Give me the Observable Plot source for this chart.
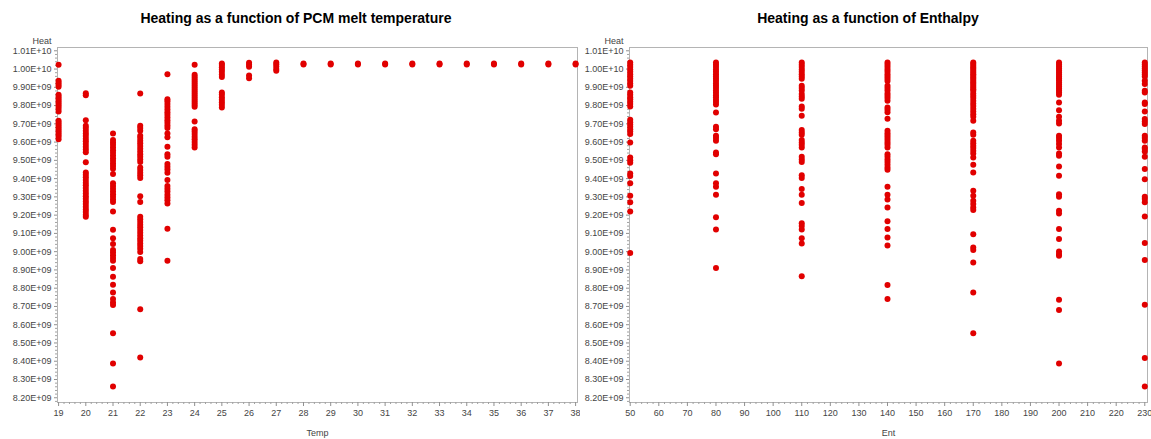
<!DOCTYPE html>
<html>
<head>
<meta charset="utf-8">
<script src="https://cdn.jsdelivr.net/npm/d3@7"></script>
<script src="https://cdn.jsdelivr.net/npm/@observablehq/plot@0.6"></script>
<style>
  body { margin: 0; background: #fff; }
  #fig { display: flex; width: 1151px; height: 439px; font-family: "Liberation Sans", Arial, sans-serif; }
  .panel { position: relative; }
  .title {
    box-sizing: border-box; height: 30px; padding-top: 10px;
    font: bold 14px "Liberation Sans", Arial, sans-serif; line-height: normal;
    text-align: center; color: #000; white-space: nowrap;
  }
</style>
</head>
<body>
<div id="fig"></div>
<script>
// Heat values in units of 1e9, one array per melt temperature
const heatT19 = [10.023, 9.936, 9.925, 9.914, 9.903, 9.859, 9.848, 9.837, 9.826, 9.815, 9.804, 9.793, 9.781, 9.768, 9.717, 9.706, 9.695, 9.684, 9.673, 9.662, 9.651, 9.640, 9.629, 9.615];
const heatT20 = [9.868, 9.857, 9.720, 9.689, 9.677, 9.662, 9.647, 9.633, 9.618, 9.604, 9.589, 9.574, 9.560, 9.545, 9.489, 9.434, 9.421, 9.407, 9.392, 9.377, 9.363, 9.348, 9.334, 9.319, 9.304, 9.290, 9.275, 9.261, 9.246, 9.231, 9.217, 9.202, 9.191];
const heatT21 = [9.647, 9.611, 9.598, 9.585, 9.571, 9.556, 9.542, 9.527, 9.512, 9.498, 9.483, 9.469, 9.454, 9.425, 9.374, 9.359, 9.345, 9.330, 9.315, 9.301, 9.286, 9.272, 9.220, 9.120, 9.074, 9.042, 9.009, 8.995, 8.980, 8.965, 8.950, 8.910, 8.863, 8.819, 8.777, 8.741, 8.722, 8.708, 8.553, 8.388, 8.261];
const heatT22 = [9.866, 9.689, 9.677, 9.662, 9.635, 9.622, 9.607, 9.593, 9.578, 9.564, 9.549, 9.534, 9.520, 9.505, 9.491, 9.461, 9.447, 9.432, 9.418, 9.403, 9.304, 9.272, 9.191, 9.177, 9.162, 9.147, 9.133, 9.118, 9.104, 9.089, 9.074, 9.060, 9.045, 9.031, 9.016, 8.998, 8.960, 8.947, 8.684, 8.421];
const heatT23 = [9.972, 9.835, 9.823, 9.808, 9.793, 9.779, 9.764, 9.750, 9.735, 9.720, 9.706, 9.691, 9.677, 9.647, 9.626, 9.574, 9.534, 9.520, 9.480, 9.465, 9.450, 9.432, 9.392, 9.359, 9.345, 9.330, 9.312, 9.297, 9.282, 9.264, 9.126, 8.950];
const heatT24 = [10.023, 9.969, 9.958, 9.947, 9.936, 9.925, 9.914, 9.903, 9.892, 9.881, 9.870, 9.859, 9.848, 9.837, 9.826, 9.815, 9.804, 9.793, 9.713, 9.671, 9.658, 9.644, 9.629, 9.615, 9.600, 9.585, 9.571];
const heatT25 = [10.030, 10.022, 10.010, 9.998, 9.985, 9.970, 9.956, 9.872, 9.860, 9.846, 9.832, 9.818, 9.804, 9.790];
const heatT26 = [10.034, 10.024, 10.012, 9.965, 9.950];
const heatT27 = [10.036, 10.026, 10.014, 10.000, 9.990];
// 28 through 38 all settle at the same plateau
const plateauTemps = [28, 29, 30, 31, 32, 33, 34, 35, 36, 37, 38];
const heatPlateau = [10.030, 10.025];

// Heat values in units of 1e9, one array per enthalpy level
const heatE50 = [10.036, 10.023, 10.011, 9.998, 9.985, 9.972, 9.959, 9.947, 9.934, 9.921, 9.908, 9.872, 9.859, 9.846, 9.834, 9.821, 9.808, 9.795, 9.722, 9.709, 9.697, 9.684, 9.671, 9.658, 9.644, 9.598, 9.516, 9.501, 9.487, 9.428, 9.414, 9.374, 9.306, 9.270, 9.220, 8.992];
const heatE80 = [10.036, 10.023, 10.011, 9.998, 9.985, 9.972, 9.959, 9.947, 9.934, 9.921, 9.908, 9.896, 9.883, 9.870, 9.857, 9.845, 9.832, 9.819, 9.806, 9.762, 9.684, 9.671, 9.635, 9.622, 9.607, 9.543, 9.534, 9.428, 9.374, 9.355, 9.312, 9.188, 9.122, 8.910];
const heatE110 = [10.036, 10.023, 10.011, 9.998, 9.985, 9.972, 9.959, 9.947, 9.908, 9.896, 9.883, 9.863, 9.850, 9.837, 9.795, 9.782, 9.744, 9.666, 9.653, 9.640, 9.611, 9.598, 9.585, 9.571, 9.520, 9.505, 9.491, 9.418, 9.403, 9.343, 9.312, 9.266, 9.155, 9.140, 9.122, 9.074, 9.045, 8.865];
const heatE140 = [10.036, 10.023, 10.011, 9.998, 9.985, 9.972, 9.959, 9.947, 9.934, 9.908, 9.896, 9.883, 9.866, 9.854, 9.841, 9.826, 9.790, 9.777, 9.764, 9.728, 9.662, 9.649, 9.636, 9.624, 9.611, 9.598, 9.585, 9.571, 9.534, 9.520, 9.505, 9.491, 9.476, 9.461, 9.449, 9.355, 9.312, 9.286, 9.242, 9.166, 9.124, 9.078, 9.034, 8.817, 8.741];
const heatE170 = [10.036, 10.027, 10.018, 10.009, 10.000, 9.991, 9.981, 9.972, 9.963, 9.954, 9.945, 9.936, 9.927, 9.918, 9.908, 9.899, 9.890, 9.881, 9.866, 9.854, 9.841, 9.826, 9.812, 9.797, 9.782, 9.768, 9.753, 9.739, 9.717, 9.653, 9.640, 9.607, 9.593, 9.580, 9.567, 9.553, 9.538, 9.516, 9.476, 9.434, 9.334, 9.306, 9.279, 9.261, 9.242, 9.228, 9.096, 9.023, 9.009, 8.941, 8.777, 8.553];
const heatE200 = [10.036, 10.025, 10.014, 10.003, 9.992, 9.981, 9.970, 9.959, 9.949, 9.938, 9.927, 9.916, 9.905, 9.894, 9.883, 9.872, 9.859, 9.817, 9.775, 9.739, 9.717, 9.702, 9.635, 9.622, 9.607, 9.589, 9.571, 9.538, 9.525, 9.467, 9.416, 9.315, 9.301, 9.224, 9.209, 9.124, 9.069, 9.001, 8.987, 8.978, 8.737, 8.680, 8.388];
const heatE230 = [10.036, 10.025, 10.014, 10.003, 9.992, 9.981, 9.970, 9.959, 9.936, 9.918, 9.881, 9.872, 9.817, 9.808, 9.768, 9.726, 9.713, 9.699, 9.635, 9.622, 9.607, 9.571, 9.562, 9.549, 9.520, 9.452, 9.397, 9.301, 9.288, 9.270, 9.193, 9.047, 8.954, 8.709, 8.418, 8.261];

// Axis ticks
const tempTicks = d3.range(19, 39);
const entTicks = d3.range(50, 231, 10);
const heatTicks = d3.range(82, 102).map(k => k * 1e8);

const tempColumns = [
  [19, heatT19], [20, heatT20], [21, heatT21], [22, heatT22], [23, heatT23],
  [24, heatT24], [25, heatT25], [26, heatT26], [27, heatT27],
  ...plateauTemps.map(t => [t, heatPlateau])
];
const entColumns = [
  [50, heatE50], [80, heatE80], [110, heatE110], [140, heatE140],
  [170, heatE170], [200, heatE200], [230, heatE230]
];
const toRows = cols => cols.flatMap(([x, vals]) => vals.map(v => ({x, heat: v * 1e9})));

// 9.90E+09 style labels
const sciFormat = v => {
  const e = Math.floor(Math.log10(v) + 1e-9);
  return (v / 10 ** e).toFixed(2) + "E+" + String(e).padStart(2, "0");
};

const heatMinor = d3.range(409, 506).filter(k => k % 5).map(k => k * 2e7);
const fontFamily = '"Liberation Sans", Arial, sans-serif';

function panel({title, rows, xLabel, xDomain, xTicks, xMinor, width, marginLeft, marginRight, titlePad}) {
  const div = document.createElement("div");
  div.className = "panel";
  div.style.width = width + "px";
  const t = document.createElement("div");
  t.className = "title";
  t.style.paddingLeft = titlePad + "px";
  t.textContent = title;
  div.append(t);
  const chart = Plot.plot({
    width, height: 409,
    marginTop: 17, marginBottom: 37, marginLeft, marginRight,
    style: {fontFamily, fontSize: "9px", color: "#444", background: "#fff", overflow: "visible"},
    x: {domain: xDomain},
    y: {domain: [8.174e9, 1.0118e10]},
    marks: [
      Plot.frame({stroke: "#b4b4b4"}),
      Plot.axisY(heatMinor, {tickSize: 2, tickFormat: () => "", stroke: "#a0a0a0", label: null}),
      Plot.axisY(heatTicks, {tickSize: 3, tickPadding: 3, tickFormat: sciFormat, stroke: "#909090", fill: "#444", label: null}),
      Plot.axisX(xMinor, {tickSize: 2, tickFormat: () => "", stroke: "#a0a0a0", label: null}),
      Plot.axisX(xTicks, {tickSize: 4, tickPadding: 3, stroke: "#909090", fill: "#444", label: null}),
      Plot.text(["Heat"], {text: d => d, frameAnchor: "top-left", lineAnchor: "middle", dx: -6, dy: -6, textAnchor: "end", fill: "#444"}),
      Plot.text([xLabel], {text: d => d, frameAnchor: "bottom", lineAnchor: "middle", dy: 31, fill: "#444"}),
      Plot.dot(rows, {x: "x", y: "heat", r: 3, fill: "#e10000", stroke: "none"})
    ]
  });
  div.append(chart);
  return div;
}

const fig = document.getElementById("fig");
fig.append(panel({
  title: "Heating as a function of PCM melt temperature",
  rows: toRows(tempColumns), xLabel: "Temp",
  xDomain: [18.96, 38.07], xTicks: tempTicks,
  xMinor: d3.range(95, 191).filter(k => k % 5).map(k => k / 5),
  width: 580, marginLeft: 57, marginRight: 3, titlePad: 12
}));
fig.append(panel({
  title: "Heating as a function of Enthalpy",
  rows: toRows(entColumns), xLabel: "Ent",
  xDomain: [49.75, 230.95], xTicks: entTicks,
  xMinor: d3.range(50, 231, 2).filter(k => k % 10),
  width: 571, marginLeft: 49, marginRight: 4, titlePad: 5
}));
</script>
</body>
</html>
